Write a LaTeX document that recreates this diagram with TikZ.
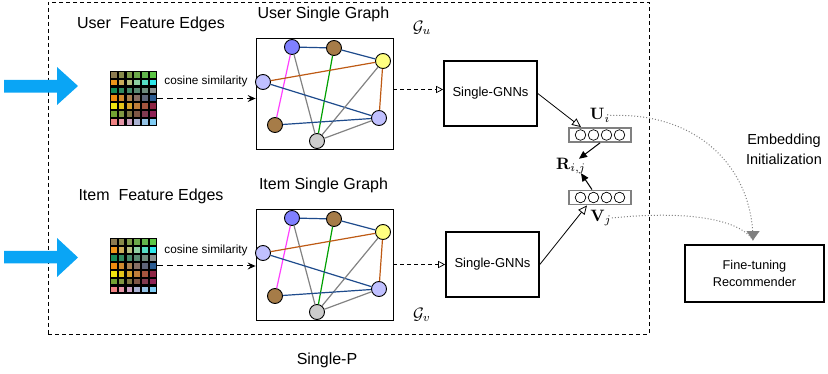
\documentclass[tikz,border=0pt]{standalone}
\usepackage[no-math]{fontspec}
\usepackage{graphicx}
\setmainfont{Liberation Sans}
\usetikzlibrary{arrows.meta,calc}
\definecolor{barrow}{RGB}{10,165,245}
\definecolor{eblue}{RGB}{30,75,140}
\definecolor{emag}{RGB}{255,64,255}
\definecolor{egreen}{RGB}{0,160,0}
\definecolor{eorange}{RGB}{190,90,20}
\definecolor{egray}{RGB}{130,130,130}
\definecolor{vpurple}{RGB}{128,128,255}
\definecolor{vbrown}{RGB}{166,124,72}
\definecolor{vyellow}{RGB}{255,255,128}
\definecolor{vlav}{RGB}{192,192,255}
\definecolor{vgray}{RGB}{204,204,204}
\newcommand\mlab[1]{\scalebox{1.65}{$#1$}}
\newcommand\featmat[1]{%
  \fill[black] (#1.north west) rectangle (#1.south east);
  \foreach \rowc [count=\r from 0] in {%
    {8B7A50,878A4A,7C9A48,6CA84A,62B44C,5CC645},
    {EE9418,C9AC5A,B4BE7E,8ED0A2,56DCC4,2EE6EA},
    {178A55,318A5E,468A6A,5A8A72,6E8A7C,8A9090},
    {EE8A0E,CF8A2E,A88050,887064,5E6478,2C5C92},
    {F2E60E,E4C41A,D6A22A,C07E3A,A4543E,8E2444},
    {72A232,809642,7E7442,7E5646,803A50,8E2256},
    {F08282,E494A6,CCA2C2,AAB2D2,94C2E4,80CCF4}}{%
    \foreach \c [count=\k from 0] in \rowc {%
      \definecolor{cc}{HTML}{\c}%
      \fill[cc] ($(#1.north west)+(\k*7.833+1.1,\r*7.857+1.1)$) rectangle ++(5.7,5.7);
    }%
  }%
}
\newcommand\sgraph[3]{%
  \node[vtx,fill=vpurple] (#1a) at (#2+36,#3+9) {};
  \node[vtx,fill=vbrown]  (#1b) at (#2+78,#3+10) {};
  \node[vtx,fill=vyellow] (#1c) at (#2+127,#3+23) {};
  \node[vtx,fill=vlav]    (#1d) at (#2+7,#3+44) {};
  \node[vtx,fill=vbrown]  (#1e) at (#2+19,#3+87) {};
  \node[vtx,fill=vgray]   (#1f) at (#2+61,#3+103) {};
  \node[vtx,fill=vlav]    (#1g) at (#2+123,#3+80) {};
  \draw[gedge,eblue] (#1a) -- (#1b);
  \draw[gedge,eblue] (#1b) -- (#1c);
  \draw[gedge,emag] (#1a) -- (#1e);
  \draw[gedge,egray] (#1a) -- (#1f);
  \draw[gedge,egreen] (#1b) -- (#1f);
  \draw[gedge,eorange] (#1d) -- (#1c);
  \draw[gedge,eblue] (#1d) -- (#1g);
  \draw[gedge,eorange] (#1c) -- (#1g);
  \draw[gedge,egray] (#1c) -- (#1f);
  \draw[gedge,eblue] (#1e) -- (#1g);
  \draw[gedge,egray] (#1f) -- (#1g);
}
\begin{document}
\begin{tikzpicture}[x=1pt,y=-1pt,
  gbox/.style={draw,line width=0.8pt,minimum width=137pt,minimum height=111pt,inner sep=0},
  gnnbox/.style={draw,line width=1.6pt,minimum width=93pt,minimum height=65pt,inner sep=0,font=\fontsize{13}{15}\selectfont},
  vtx/.style={circle,draw,line width=0.9pt,minimum size=15pt,inner sep=0},
  gedge/.style={line width=1.2pt},
  embbox/.style={draw=gray,line width=1.8pt,minimum width=62pt,minimum height=14pt,inner sep=0},
  matbox/.style={inner sep=0,minimum width=47pt,minimum height=55pt},
  lbl/.style={font=\fontsize{16}{19}\selectfont,anchor=base,inner sep=0},
  cos/.style={font=\fontsize{11.8}{14}\selectfont,anchor=base,inner sep=0},
  mlbl/.style={inner sep=0},
  dasharr/.style={dash pattern=on 6pt off 4pt,line width=1pt,-{Stealth[length=8pt,width=7pt,inset=3pt]}},
  openarr/.style={dash pattern=on 4pt off 3pt,line width=0.7pt,-{Triangle[open,length=7pt,width=7pt]}},
  solarr/.style={line width=0.8pt,-{Triangle[open,length=9pt,width=8pt]}},
  fillarr/.style={line width=1pt,-{Triangle[length=8pt,width=7pt]}},
  dotarr/.style={dotted,gray,line width=1pt}]
\useasboundingbox (0,0) rectangle (828,374);
% frame
\node[draw,dash pattern=on 4pt off 3pt,line width=0.7pt,minimum width=601pt,minimum height=332pt,inner sep=0] (frame) at (348.5,168) {};
% blue arrows
\fill[barrow] (4,80) -- (57,80) -- (57,67) -- (78,86) -- (57,105) -- (57,92.7) -- (4,92.7) -- cycle;
\fill[barrow] (4,251) -- (57,251) -- (57,238) -- (78,257.5) -- (57,277) -- (57,263.5) -- (4,263.5) -- cycle;
% texts
\node[lbl] (tuf) at (151,29) {User\ \ Feature Edges};
\node[lbl] (tif) at (151,200.5) {Item\ \ Feature Edges};
\node[lbl] (tug) at (323.5,18.5) {User Single Graph};
\node[lbl] (tig) at (323.5,189.5) {Item Single Graph};
\node[lbl] (tsp) at (327,364) {Single-P};
% matrices
\node[matbox] (mu) at (133.5,98.5) {};
\featmat{mu}
\node[matbox] (mv) at (133.5,266) {};
\featmat{mv}
% graph boxes
\node[gbox] (gu) at (324.5,93.5) {};
\node[gbox] (gv) at (324.5,264.5) {};
\sgraph{u}{256}{38}
\sgraph{v}{256}{209}
% cosine arrows
\draw[dasharr] (mu.east) -- (mu.east -| gu.west);
\draw[dasharr] (mv.east) -- (mv.east -| gv.west);
\node[cos] (cu) at (206,85) {cosine similarity};
\node[cos] (cv) at (206,253.5) {cosine similarity};
% G labels
\node[mlbl] (Gu) at (422,28) {\mlab{\mathcal{G}_u}};
\node[mlbl] (Gv) at (422,315) {\mlab{\mathcal{G}_v}};
% GNN boxes
\node[gnnbox] (gnnu) at (490.5,93.5) {Single-GNNs};
\node[gnnbox] (gnnv) at (492.5,264.5) {Single-GNNs};
\draw[openarr] ([yshift=4pt]gu.east) -- ([yshift=4pt]gu.east -| gnnu.west);
\draw[openarr] (gv.east) -- (gv.east -| gnnv.west);
% embeddings
\node[embbox] (embU) at (600,135) {};
\node[embbox] (embV) at (600,197.5) {};
\foreach \dx in {-19.5,-6.5,6.5,19.5}{
  \draw[line width=0.7pt] ([xshift=\dx pt]embU.center) circle (5.3pt);
  \draw[line width=0.7pt] ([xshift=\dx pt]embV.center) circle (5.3pt);
}
\node[mlbl] (Ui) at (600,115.5) {\mlab{\mathbf{U}_i}};
\node[mlbl] (Vj) at (601,218) {\mlab{\mathbf{V}_j}};
\node[mlbl] (R) at (571,166) {\mlab{\mathbf{R}_{i,j}}};
\draw[solarr] (gnnu.east) -- ([xshift=-19pt]embU.north);
\draw[solarr] (gnnv.east) -- ([xshift=-13pt]embV.south);
\draw[fillarr] (embU.south) -- ([xshift=8pt,yshift=-1pt]R.north);
\draw[fillarr] ([xshift=-8pt]embV.north) -- ([xshift=10pt,yshift=1pt]R.south);
% fine-tuning
\node[draw,line width=1.5pt,minimum width=139pt,minimum height=57pt,inner sep=0,align=center,font=\fontsize{12.7}{16.5}\selectfont] (ft) at (754.5,273.5) {Fine-tuning\\Recommender};
\coordinate (tip) at ([xshift=-1.5pt,yshift=4pt]ft.north);
\node[align=center,font=\fontsize{14.5}{20}\selectfont,inner sep=0] (emb) at (784,149) {Embedding\\Initialization};
\draw[dotarr] (Ui.east) .. controls (700,112) and (753,170) .. (tip);
\draw[dotarr] (Vj.east) .. controls (690,210) and (740,220) .. (tip);
\fill[gray] (tip) -- ++(-6.5,-9) -- ++(13,0) -- cycle;
\end{tikzpicture}
\end{document}
